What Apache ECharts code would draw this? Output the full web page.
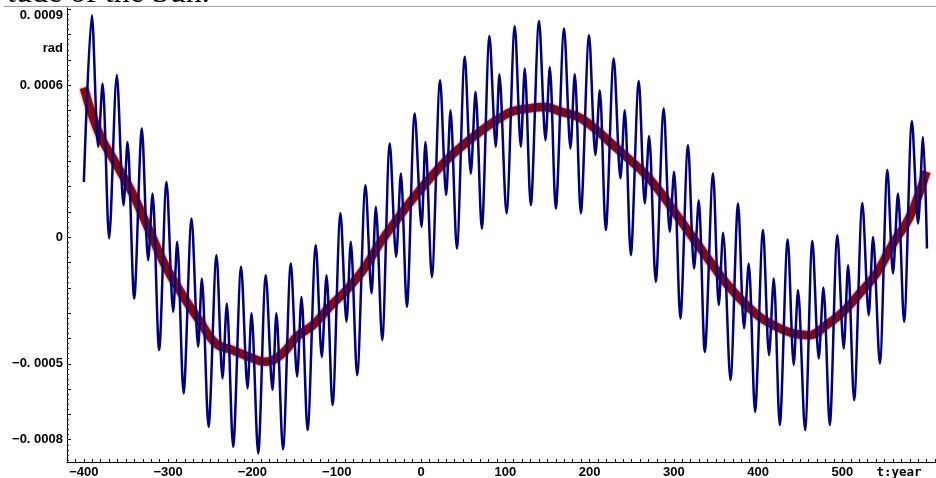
<!DOCTYPE html>
<html><head><meta charset="utf-8">
<script src="https://cdn.jsdelivr.net/npm/echarts@6/dist/echarts.min.js"></script>
<style>html,body{margin:0;padding:0;background:#fff}#c{width:936px;height:478px}</style>
</head><body><div id="c"></div>
<script>
// Fast-oscillating curve (peaks / troughs), t in years, value in rad
const blueT = [-400,-390.5,-383,-377.8,-370,-360.9,-352.9,-348.2,-340.3,-331.2,-323.7,-318.5,-310.7,-301.9,-294,-289.3,-281.7,-272.2,-264.4,-260,-252.1,-242.6,-235.5,-230.4,-222.9,-213.4,-205.8,-201.1,-193.2,-184.1,-176.2,-171.6,-163.8,-154.4,-147,-141.8,-134.6,-124.8,-117.7,-112.1,-105,-95.5,-88.4,-83.3,-75.8,-65.8,-58.7,-53.6,-46.1,-37,-29.5,-23.9,-16.8,-7.4,0.6,5.3,12.8,22.7,29.8,35,42.5,52,59.1,64.7,72.1,81.3,88.7,93,101.4,111.3,118.4,123.1,130.2,140.1,147.7,152.8,159.9,169.8,177.3,182.4,189.6,199.4,206.9,212.1,219.2,228.7,236.6,241.7,248.9,258.4,265.5,270.6,278.5,288,295.1,300.2,307.7,316.8,324,329.5,336.7,346.5,353.3,358.4,367.1,376.2,383.3,388.8,396.3,405.8,412.9,418.5,425.6,435.1,442.2,447.3,455.6,464.4,471.9,477.4,484.9,494,501.5,506.7,513.8,523.7,531.2,536.3,544.3,553.4,560,565.9,573.1,582.5,589.7,595.6,600.3];
const blueV = [2.18e-4,8.76e-4,3.57e-4,6.07e-4,-0.05e-4,6.4e-4,1.26e-4,3.76e-4,-2.42e-4,4.29e-4,-0.91e-4,1.72e-4,-4.46e-4,2.18e-4,-2.95e-4,-0.18e-4,-6.17e-4,0.74e-4,-4.33e-4,-1.63e-4,-7.49e-4,-0.71e-4,-5.58e-4,-2.62e-4,-8.28e-4,-1.17e-4,-5.97e-4,-3.01e-4,-8.54e-4,-1.5e-4,-6.04e-4,-3.01e-4,-8.38e-4,-1.04e-4,-5.51e-4,-2.36e-4,-7.62e-4,-0.32e-4,-4.73e-4,-1.5e-4,-6.63e-4,0.94e-4,-3.34e-4,-0.18e-4,-5.45e-4,2.05e-4,-2.22e-4,1.2e-4,-4.07e-4,3.7e-4,-0.78e-4,2.51e-4,-2.75e-4,4.88e-4,0.41e-4,3.76e-4,-1.57e-4,6.2e-4,1.66e-4,5.01e-4,-0.45e-4,7.12e-4,2.51e-4,5.74e-4,0.34e-4,7.94e-4,3.57e-4,6.43e-4,0.94e-4,8.33e-4,3.57e-4,6.66e-4,1.26e-4,8.54e-4,3.83e-4,6.72e-4,1.13e-4,8.24e-4,3.5e-4,6.44e-4,0.94e-4,7.97e-4,3.24e-4,5.8e-4,0.28e-4,7.06e-4,2.32e-4,5.01e-4,-0.71e-4,6.17e-4,1.33e-4,3.99e-4,-1.76e-4,5.08e-4,0.21e-4,2.58e-4,-3.21e-4,3.63e-4,-1.24e-4,1.46e-4,-4.53e-4,2.51e-4,-2.68e-4,0.17e-4,-5.65e-4,1.33e-4,-3.6e-4,-1.04e-4,-6.9e-4,0.28e-4,-4.66e-4,-1.63e-4,-7.42e-4,-0.09e-4,-5.05e-4,-2.09e-4,-7.62e-4,-0.15e-4,-4.79e-4,-1.99e-4,-7.42e-4,0.08e-4,-4.4e-4,-1.11e-4,-6.44e-4,1.35e-4,-3.08e-4,0.01e-4,-4.99e-4,2.65e-4,-1.43e-4,1.72e-4,-3.34e-4,4.59e-4,0.54e-4,3.96e-4,-0.45e-4];
// Slow (smoothed) curve
const redT = [-400,-381.8,-362,-342.2,-322.5,-302.7,-282.9,-263.2,-243.4,-223.6,-203.9,-184.1,-164.3,-147.7,-128,-108.2,-88.4,-68.7,-48.9,-29.1,-9.4,10.4,30.2,49.9,69.7,89.5,107.3,127,146.8,166.6,186.4,206.2,225.9,245.7,265.5,285.3,305,324.8,344.6,362.4,382.1,401.9,421.7,441.4,461.2,481,500.7,520.5,540.3,560,579.8,599.6];
const redV = [5.9e-4,4.09e-4,2.91e-4,1.72e-4,0.28e-4,-1.17e-4,-2.29e-4,-3.28e-4,-4.2e-4,-4.46e-4,-4.73e-4,-4.92e-4,-4.59e-4,-3.94e-4,-3.47e-4,-2.75e-4,-2.09e-4,-1.3e-4,-0.25e-4,0.67e-4,1.53e-4,2.32e-4,3.04e-4,3.63e-4,4.16e-4,4.62e-4,4.95e-4,5.08e-4,5.14e-4,4.95e-4,4.75e-4,4.29e-4,3.7e-4,3.11e-4,2.51e-4,1.72e-4,0.8e-4,-0.12e-4,-1.04e-4,-1.83e-4,-2.55e-4,-3.15e-4,-3.54e-4,-3.8e-4,-3.87e-4,-3.47e-4,-2.95e-4,-2.22e-4,-1.43e-4,-0.25e-4,0.8e-4,2.58e-4];
// Tick labels
const xLabelValues = [-400,-300,-200,-100,0,100,200,300,400,500];
const yLabelValues = [0.0009,0.0006,0,-0.0005,-0.0008];
const yLabelTexts = ['0. 0009','0. 0006','0','\u22120. 0005','\u22120. 0008'];

const xTicks = []; for (let t = -420; t <= 610; t += 10) xTicks.push(t);
const yTicks = []; for (let k = -8; k <= 9; k++) yTicks.push(k / 10000);
const yMinor = []; for (let k = -44; k <= 45; k++) yMinor.push(k / 50000);

const labelFont = {color:'#000', fontWeight:'bold', fontSize:13, fontFamily:'"Liberation Sans", Arial, sans-serif'};
const chart = echarts.init(document.getElementById('c'), null, {renderer:'canvas'});
chart.setOption({
  animation:false,
  backgroundColor:'#fff',
  grid:{left:67, right:0, top:8, bottom:16, containLabel:false, outerBoundsMode:'none'},
  xAxis:{type:'value', min:-420, max:611,
    axisLine:{show:true, onZero:false, lineStyle:{color:'#000', width:1}},
    axisTick:{show:true, inside:true, length:3, customValues:xTicks, lineStyle:{color:'#000'}},
    axisLabel:Object.assign({customValues:xLabelValues, margin:4,
      formatter:v=>String(Math.round(v)).replace('-', '\u2212')}, labelFont),
    splitLine:{show:false}},
  yAxis:[{type:'value', min:-0.000888, max:0.000905, position:'left',
    axisLine:{show:true, onZero:false, lineStyle:{color:'#000', width:1}},
    axisTick:{show:true, inside:true, length:4, customValues:yTicks, lineStyle:{color:'#000'}},
    axisLabel:Object.assign({customValues:yLabelValues, margin:4,
      formatter:v=>{
        const i = yLabelValues.findIndex(u=>Math.abs(u-v)<1e-9);
        const s = i>=0 ? yLabelTexts[i] : '';
        return i===0 ? '{top|'+s+'}' : s;
      },
      rich:{top:Object.assign({padding:[12,0,0,0]}, labelFont)}}, labelFont),
    splitLine:{show:false}},
   {type:'value', min:-0.000888, max:0.000905, position:'left', offset:0,
    axisLine:{show:false, onZero:false}, axisLabel:{show:false}, splitLine:{show:false},
    axisTick:{show:true, inside:true, length:2, customValues:yMinor, lineStyle:{color:'#333'}}}],
  series:[
    {type:'line', name:'mean', data:redT.map((t,i)=>[t, redV[i]]), showSymbol:false, smooth:0.4,
     lineStyle:{color:'#870000', width:8.5, opacity:0.92, shadowColor:'rgba(150,0,0,0.7)', shadowBlur:3}, z:2, silent:true},
    {type:'line', name:'full', data:blueT.map((t,i)=>[t, blueV[i]]), showSymbol:false, smooth:0.3,
     lineStyle:{color:'#000080', width:2.5}, z:3, silent:true}
  ],
  graphic:[
    {type:'text', x:7, y:-6, silent:true, style:{text:'tude of the Sun.', font:'32px "Liberation Serif", serif', fill:'#000', verticalAlign:'middle', align:'left'}},
    {type:'line', silent:true, shape:{x1:4, y1:6.5, x2:936, y2:6.5}, style:{stroke:'#a0a0a0', lineWidth:1}},
    {type:'text', x:63, y:48, silent:true, style:{text:'rad', font:'bold 13px "Liberation Sans", Arial, sans-serif', fill:'#000', align:'right', verticalAlign:'middle'}},
    {type:'text', x:899, y:473, silent:true, style:{text:'t:year', font:'bold 12.5px "DejaVu Sans Mono", monospace', fill:'#000', align:'center', verticalAlign:'middle'}}
  ]
});
</script></body></html>
